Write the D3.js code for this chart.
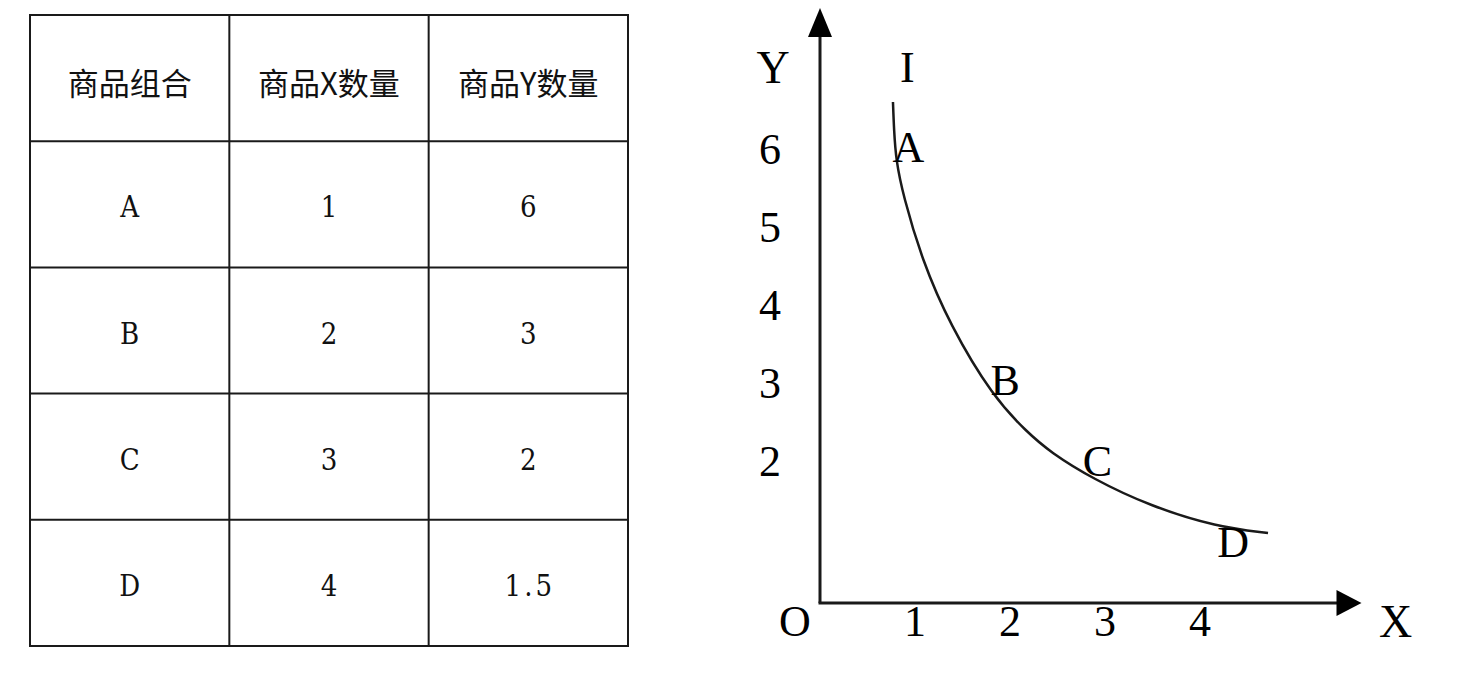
<!DOCTYPE html>
<html>
<head>
<meta charset="utf-8">
<script src="https://cdn.jsdelivr.net/npm/d3@7"></script>
<style>
  html, body { margin: 0; padding: 0; background: #ffffff; }
  svg { display: block; }
</style>
</head>
<body>
<svg id="chart" width="1462" height="685"></svg>
<script>
// ---------- data ----------
const tableHeaders = ["商品组合", "商品X数量", "商品Y数量"];
const bundles = ["A", "B", "C", "D"];
const qtyX = ["1", "2", "3", "4"];
const qtyY = ["6", "3", "2", "1.5"];

const xTicks = [1, 2, 3, 4];
const yTicks = [2, 3, 4, 5, 6];

// indifference curve I (X, Y)
const curveX = [0.768, 0.779, 0.800, 0.874, 1.074, 1.368, 1.821, 2.179, 2.421, 2.874, 3.474, 4.179, 4.716];
const curveY = [6.592, 6.224, 5.829, 5.368, 4.513, 3.658, 2.711, 2.250, 1.987, 1.632, 1.276, 1.000, 0.921];

// point labels on the curve
const labelText = ["I", "A", "B", "C", "D"];
const labelX = [0.92, 0.93, 1.95, 2.92, 4.35];
const labelY = [7.05, 6.0, 2.93, 1.86, 0.79];

// ---------- drawing ----------
const svg = d3.select("#chart");
const ink = "#1a1a1a";

// ---- table ----
const colScale = d3.scaleBand().domain(d3.range(3)).range([30, 628]);
const rowScale = d3.scaleBand().domain(d3.range(5)).range([15, 646]);
const table = svg.append("g");

const rows = [tableHeaders].concat(bundles.map((b, i) => [b, qtyX[i], qtyY[i]]));

// grid lines
rowScale.domain().concat([5]).forEach(r => {
  const yy = r < 5 ? rowScale(r) : rowScale.range()[1];
  table.append("line")
    .attr("x1", colScale.range()[0] - 1).attr("x2", colScale.range()[1] + 1)
    .attr("y1", yy).attr("y2", yy)
    .attr("stroke", ink).attr("stroke-width", 2);
});
colScale.domain().concat([3]).forEach(c => {
  const xx = c < 3 ? colScale(c) : colScale.range()[1];
  table.append("line")
    .attr("x1", xx).attr("x2", xx)
    .attr("y1", rowScale.range()[0]).attr("y2", rowScale.range()[1])
    .attr("stroke", ink).attr("stroke-width", 2);
});

rows.forEach((row, r) => {
  row.forEach((cell, c) => {
    table.append("text")
      .attr("x", colScale(c) + colScale.bandwidth() / 2 + (r === 0 ? 0 : 1.5))
      .attr("y", rowScale(r) + rowScale.bandwidth() / 2 + 3)
      .attr("text-anchor", "middle")
      .attr("dominant-baseline", "central")
      .attr("font-family", r === 0 ? "'Noto Sans CJK SC', sans-serif" : "'DejaVu Serif Condensed', 'DejaVu Serif', serif")
      .attr("font-stretch", r === 0 ? null : "condensed")
      .attr("font-size", r === 0 ? 31 : 29)
      .attr("letter-spacing", r === 0 ? null : 3)
      .attr("fill", "#111")
      .text(cell);
  });
});

// ---- chart ----
const x = d3.scaleLinear().domain([0, 5.7]).range([820, 820 + 5.7 * 95]);
const y = d3.scaleLinear().domain([0, 7.83]).range([603, 603 - 7.83 * 76]);
const g = svg.append("g");
const serif = "'Liberation Serif', 'Times New Roman', serif";

// axes
g.append("line")
  .attr("x1", x(0)).attr("y1", y(0))
  .attr("x2", x(0)).attr("y2", y(7.83) + 26)
  .attr("stroke", ink).attr("stroke-width", 3);
g.append("line")
  .attr("x1", x(0) - 1.5).attr("y1", y(0))
  .attr("x2", x(5.7) - 22).attr("y2", y(0))
  .attr("stroke", ink).attr("stroke-width", 3);

// arrowheads
g.append("path")
  .attr("d", `M${x(0)},${y(7.83)} L${x(0) - 12},${y(7.83) + 29} L${x(0) + 12},${y(7.83) + 29} Z`)
  .attr("fill", "#000");
g.append("path")
  .attr("d", `M${x(5.7)},${y(0)} L${x(5.7) - 25},${y(0) - 13} L${x(5.7) - 25},${y(0) + 13} Z`)
  .attr("fill", "#000");

// tick labels
g.selectAll("text.xt").data(xTicks).enter().append("text")
  .attr("class", "xt")
  .attr("x", d => x(d))
  .attr("y", y(0) + 18)
  .attr("text-anchor", "middle")
  .attr("dominant-baseline", "central")
  .attr("font-family", serif).attr("font-size", 44).attr("fill", "#000")
  .text(d => d);

g.selectAll("text.yt").data(yTicks).enter().append("text")
  .attr("class", "yt")
  .attr("x", x(0) - 50)
  .attr("y", d => y(d) + 2 + (6 - d) * 2.2)
  .attr("text-anchor", "middle")
  .attr("dominant-baseline", "central")
  .attr("font-family", serif).attr("font-size", 44).attr("fill", "#000")
  .text(d => d);

// axis names
g.append("text").attr("x", x(0) - 25).attr("y", y(0) + 18)
  .attr("text-anchor", "middle").attr("dominant-baseline", "central")
  .attr("font-family", serif).attr("font-size", 44).text("O");
g.append("text").attr("x", x(5.7) + 34).attr("y", y(0) + 18)
  .attr("text-anchor", "middle").attr("dominant-baseline", "central")
  .attr("font-family", serif).attr("font-size", 46).text("X");
g.append("text").attr("x", x(0) - 47).attr("y", y(7.05))
  .attr("text-anchor", "middle").attr("dominant-baseline", "central")
  .attr("font-family", serif).attr("font-size", 46).text("Y");

// curve
const curvePts = curveX.map((v, i) => [v, curveY[i]]);
g.append("path")
  .datum(curvePts)
  .attr("d", d3.line().x(d => x(d[0])).y(d => y(d[1])).curve(d3.curveBasis))
  .attr("fill", "none").attr("stroke", ink).attr("stroke-width", 2.5);

// curve labels
g.selectAll("text.lab").data(labelText).enter().append("text")
  .attr("class", "lab")
  .attr("x", (d, i) => x(labelX[i]))
  .attr("y", (d, i) => y(labelY[i]))
  .attr("text-anchor", "middle")
  .attr("dominant-baseline", "central")
  .attr("font-family", serif).attr("font-size", 44).attr("fill", "#000")
  .text(d => d);
</script>
</body>
</html>
